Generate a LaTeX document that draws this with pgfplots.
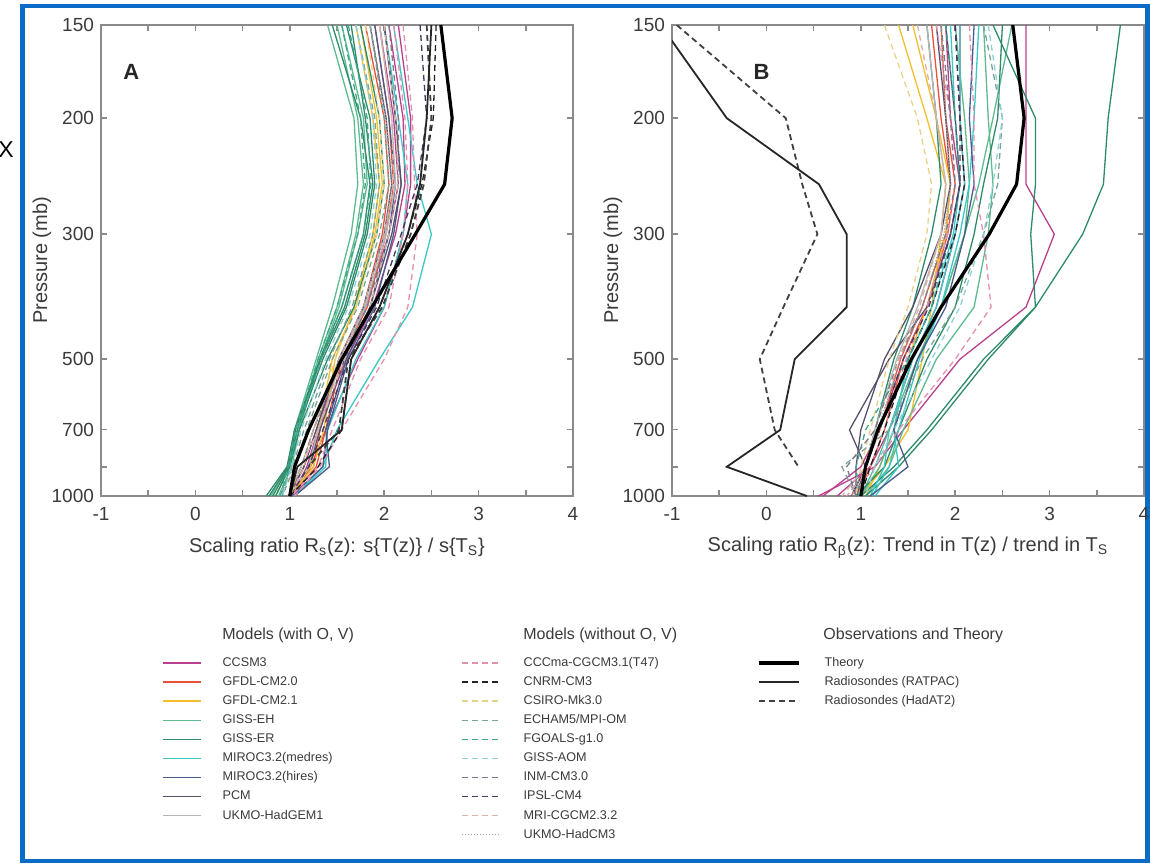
\documentclass[border=0pt]{standalone}
\usepackage{fontspec}
\setmainfont{Liberation Sans}
\usepackage{pgfplots}
\pgfplotsset{compat=1.18}
\definecolor{frameblue}{HTML}{0A6CC4}
\definecolor{axisgray}{HTML}{8A8A8A}
\definecolor{labelgray}{HTML}{3A3A3A}
\definecolor{cCCSM}{HTML}{B8408C}
\definecolor{cGFDLa}{HTML}{E8503A}
\definecolor{cGFDLb}{HTML}{F2BE2E}
\definecolor{cGISSEH}{HTML}{5DBB8E}
\definecolor{cGISSER}{HTML}{2E8B6A}
\definecolor{cMIROCm}{HTML}{3CC7C7}
\definecolor{cMIROCh}{HTML}{4A5A8A}
\definecolor{cPCM}{HTML}{55506A}
\definecolor{cHadGEM}{HTML}{B5B5B5}
\definecolor{cCCCma}{HTML}{E38FB0}
\definecolor{cCNRM}{HTML}{222222}
\definecolor{cCSIRO}{HTML}{E8D28A}
\definecolor{cECHAM}{HTML}{7AA595}
\definecolor{cFGOALS}{HTML}{3FA68F}
\definecolor{cGISSAOM}{HTML}{8FD0D8}
\definecolor{cINM}{HTML}{7A7A88}
\definecolor{cIPSL}{HTML}{4A3560}
\definecolor{cMRI}{HTML}{D9B3A8}
\definecolor{cHadCM3}{HTML}{A0A0A0}
\tikzset{
 mline/.style={line width=0.65pt, solid},
 dline/.style={line width=0.65pt, dash pattern=on 3pt off 2pt},
 sCCSM/.style={mline, draw=cCCSM},
 sGFDLa/.style={mline, draw=cGFDLa},
 sGFDLb/.style={mline, draw=cGFDLb},
 sGISSEH/.style={mline, draw=cGISSEH},
 sGISSER/.style={mline, draw=cGISSER},
 sMIROCm/.style={mline, draw=cMIROCm},
 sMIROCh/.style={mline, draw=cMIROCh},
 sPCM/.style={mline, draw=cPCM},
 sHadGEM/.style={mline, draw=cHadGEM},
 dCCCma/.style={dline, draw=cCCCma},
 dCNRM/.style={dline, draw=cCNRM},
 dCSIRO/.style={dline, draw=cCSIRO},
 dECHAM/.style={dline, draw=cECHAM},
 dFGOALS/.style={dline, draw=cFGOALS},
 dGISSAOM/.style={dline, draw=cGISSAOM},
 dINM/.style={dline, draw=cINM},
 dIPSL/.style={dline, draw=cIPSL},
 dMRI/.style={dline, draw=cMRI},
 dHadCM3/.style={line width=0.65pt, draw=cHadCM3, dash pattern=on 0.6pt off 0.9pt},
 oTheory/.style={line width=1.6pt, draw=black, solid},
 oRATPAC/.style={line width=0.9pt, draw=black!85, solid},
 oHadAT/.style={line width=0.9pt, draw=black!75, dash pattern=on 3pt off 2pt},
}
\pgfplotsset{
 panel/.style={
  scale only axis, width=236pt, height=235.5pt,
  xmin=-1, xmax=4, ymin=0.08913, ymax=0.17313,
  y filter/.expression={exp(-0.35*ln(y))},
  xtick={-1,0,1,2,3,4}, xticklabels={-1,0,1,2,3,4},
  minor xtick={-0.5,0.5,1.5,2.5,3.5},
  ytick={0.08913,0.09434,0.10098,0.11360,0.13583,0.15655,0.17313},
  yticklabels={1000,,700,500,300,200,150},
  scaled y ticks=false,
  tick align=inside, major tick length=3pt, minor tick length=3pt,
  axis line style={draw=axisgray, line width=1pt},
  every tick/.style={draw=axisgray, line width=0.8pt},
  tick label style={font=\fontsize{9.5}{11}\selectfont, text=labelgray},
  xticklabel style={yshift=-2pt},
  label style={font=\fontsize{10}{12}\selectfont, text=labelgray},
  xlabel style={at={(axis description cs:0.5,-0.11)}, anchor=center},
  ylabel style={at={(axis description cs:-0.125,0.5)}, anchor=center},
  no markers, clip=true,
 },
 legcol/.style={
  hide axis, scale only axis, width=1pt, height=1pt,
  xmin=0, xmax=1, ymin=0, ymax=1, anchor=north west,
  legend cell align=left,
  legend style={at={(0,1)}, anchor=north west, draw=none, fill=none,
    inner sep=0pt, outer sep=0pt, row sep=3.65pt,
    font=\fontsize{6.3}{7}\selectfont, text=labelgray,
    nodes={inner xsep=0pt, inner ysep=0pt, text height=4.6pt, text depth=1.3pt}},
 },
}
\begin{document}
\begin{tikzpicture}
\useasboundingbox (0,0) rectangle (575pt,-431.5pt);
\draw[frameblue, line width=2.4pt] (11.25pt,-3pt) rectangle (573.75pt,-430.5pt);
\node[font=\fontsize{11.5}{13}\selectfont, text=black] at (3pt,-75pt) {X};

% ---------------- Panel A ----------------
\begin{axis}[panel, at={(50.5pt,-248pt)}, anchor=south west,
  xlabel={Scaling ratio R\textsubscript{s}(z): s\{T(z)\} / s\{T\textsubscript{S}\}},
  ylabel={Pressure (mb)}]
\addplot[sCCSM] coordinates {(1.95,150)(2.10,200)(2.15,250)(2.05,300)(1.80,400)(1.55,500)(1.28,700)(1.15,850)(1.00,1000)};
\addplot[sCCSM] coordinates {(2.05,150)(2.20,200)(2.22,250)(2.12,300)(1.88,400)(1.60,500)(1.30,700)(1.18,850)(1.02,1000)};
\addplot[sCCSM] coordinates {(2.15,150)(2.28,200)(2.28,250)(2.20,300)(2.00,400)(1.72,500)(1.38,700)(1.22,850)(1.05,1000)};
\addplot[sGFDLa] coordinates {(1.80,150)(2.00,200)(2.05,250)(1.98,300)(1.78,400)(1.52,500)(1.32,700)(1.25,850)(1.00,1000)};
\addplot[sGFDLa] coordinates {(1.90,150)(2.05,200)(2.10,250)(2.02,300)(1.82,400)(1.55,500)(1.38,700)(1.28,850)(1.02,1000)};
\addplot[sGFDLb] coordinates {(1.75,150)(1.92,200)(1.98,250)(1.90,300)(1.70,400)(1.45,500)(1.30,700)(1.22,850)(0.98,1000)};
\addplot[sGFDLb] coordinates {(1.70,150)(1.88,200)(1.95,250)(1.88,300)(1.68,400)(1.48,500)(1.36,700)(1.25,850)(1.00,1000)};
\addplot[sGISSEH] coordinates {(1.40,150)(1.68,200)(1.72,250)(1.65,300)(1.45,400)(1.28,500)(1.05,700)(0.98,850)(0.80,1000)};
\addplot[sGISSEH] coordinates {(1.50,150)(1.72,200)(1.78,250)(1.70,300)(1.50,400)(1.30,500)(1.08,700)(1.00,850)(0.85,1000)};
\addplot[sGISSEH] coordinates {(1.55,150)(1.78,200)(1.82,250)(1.72,300)(1.52,400)(1.32,500)(1.10,700)(1.02,850)(0.88,1000)};
\addplot[sGISSER] coordinates {(1.45,150)(1.75,200)(1.85,250)(1.78,300)(1.55,400)(1.32,500)(1.05,700)(0.97,850)(0.75,1000)};
\addplot[sGISSER] coordinates {(1.60,150)(1.85,200)(1.90,250)(1.82,300)(1.60,400)(1.35,500)(1.08,700)(0.98,850)(0.78,1000)};
\addplot[sGISSER] coordinates {(1.65,150)(1.80,200)(1.88,250)(1.80,300)(1.58,400)(1.33,500)(1.06,700)(0.99,850)(0.82,1000)};
\addplot[sGISSER] coordinates {(1.75,150)(1.95,200)(2.00,250)(1.92,300)(1.68,400)(1.40,500)(1.10,700)(1.00,850)(0.85,1000)};
\addplot[sMIROCm] coordinates {(2.10,150)(2.25,200)(2.35,250)(2.50,300)(2.30,400)(1.95,500)(1.50,700)(1.35,850)(1.05,1000)};
\addplot[sMIROCm] coordinates {(2.00,150)(2.15,200)(2.25,250)(2.20,300)(2.00,400)(1.70,500)(1.40,700)(1.38,850)(1.05,1000)};
\addplot[sMIROCh] coordinates {(1.90,150)(2.05,200)(2.12,250)(2.05,300)(1.85,400)(1.60,500)(1.38,700)(1.42,850)(1.05,1000)};
\addplot[sMIROCh] coordinates {(2.00,150)(2.12,200)(2.18,250)(2.10,300)(1.90,400)(1.62,500)(1.40,700)(1.35,850)(1.02,1000)};
\addplot[sPCM] coordinates {(2.00,150)(2.12,200)(2.18,250)(2.08,300)(1.85,400)(1.58,500)(1.32,700)(1.20,850)(1.00,1000)};
\addplot[sPCM] coordinates {(1.85,150)(2.02,200)(2.08,250)(2.00,300)(1.78,400)(1.52,500)(1.28,700)(1.15,850)(0.98,1000)};
\addplot[sHadGEM] coordinates {(1.95,150)(2.08,200)(2.12,250)(2.02,300)(1.80,400)(1.55,500)(1.30,700)(1.20,850)(1.00,1000)};
\addplot[dCCCma] coordinates {(2.20,150)(2.30,200)(2.32,250)(2.35,300)(2.25,400)(2.00,500)(1.55,700)(1.32,850)(1.05,1000)};
\addplot[dCCCma] coordinates {(2.10,150)(2.22,200)(2.25,250)(2.20,300)(2.05,400)(1.75,500)(1.45,700)(1.30,850)(1.02,1000)};
\addplot[dCNRM] coordinates {(2.55,150)(2.52,200)(2.40,250)(2.25,300)(1.95,400)(1.65,500)(1.55,700)(1.30,850)(1.00,1000)};
\addplot[dCSIRO] coordinates {(1.80,150)(1.95,200)(2.00,250)(1.92,300)(1.70,400)(1.48,500)(1.25,700)(1.12,850)(0.98,1000)};
\addplot[dECHAM] coordinates {(1.85,150)(2.00,200)(2.05,250)(1.95,300)(1.72,400)(1.45,500)(1.18,700)(1.05,850)(0.92,1000)};
\addplot[dECHAM] coordinates {(1.70,150)(1.90,200)(1.95,250)(1.88,300)(1.66,400)(1.42,500)(1.15,700)(1.03,850)(0.90,1000)};
\addplot[dFGOALS] coordinates {(1.55,150)(1.75,200)(1.80,250)(1.72,300)(1.50,400)(1.30,500)(1.06,700)(0.98,850)(0.90,1000)};
\addplot[dFGOALS] coordinates {(1.62,150)(1.82,200)(1.86,250)(1.78,300)(1.55,400)(1.33,500)(1.08,700)(1.00,850)(0.92,1000)};
\addplot[dGISSAOM] coordinates {(1.70,150)(1.88,200)(1.92,250)(1.85,300)(1.62,400)(1.38,500)(1.12,700)(1.02,850)(0.92,1000)};
\addplot[dINM] coordinates {(2.05,150)(2.15,200)(2.15,250)(2.05,300)(1.82,400)(1.55,500)(1.25,700)(1.12,850)(0.98,1000)};
\addplot[dIPSL] coordinates {(2.38,150)(2.45,200)(2.35,250)(2.18,300)(1.92,400)(1.62,500)(1.35,700)(1.20,850)(1.00,1000)};
\addplot[dMRI] coordinates {(1.95,150)(2.08,200)(2.10,250)(2.00,300)(1.78,400)(1.52,500)(1.25,700)(1.15,850)(1.00,1000)};
\addplot[dMRI] coordinates {(2.00,150)(2.12,200)(2.15,250)(2.05,300)(1.85,400)(1.58,500)(1.30,700)(1.12,850)(0.98,1000)};
\addplot[dHadCM3] coordinates {(1.85,150)(2.02,200)(2.08,250)(2.00,300)(1.78,400)(1.52,500)(1.25,700)(1.12,850)(0.98,1000)};
\addplot[oHadAT] coordinates {(2.45,150)(2.50,200)(2.42,250)(2.28,300)(1.98,400)(1.62,500)(1.52,700)(1.20,850)};
\addplot[oRATPAC] coordinates {(2.50,150)(2.45,200)(2.38,250)(2.25,300)(1.95,400)(1.65,500)(1.55,700)(1.08,850)(1.00,1000)};
\addplot[oTheory] coordinates {(2.60,150)(2.72,200)(2.64,250)(2.33,300)(1.87,400)(1.55,500)(1.20,700)(1.05,850)(1.00,1000)};
\node[font=\bfseries\fontsize{11}{12}\selectfont, text=black!85] at (axis description cs:0.064,0.90) {A};
\end{axis}

% ---------------- Panel B ----------------
\begin{axis}[panel, at={(336pt,-248pt)}, anchor=south west,
  xlabel={Scaling ratio R\textsubscript{β}(z): Trend in T(z) / trend in T\textsubscript{S}},
  ylabel={Pressure (mb)}]
\addplot[sCCSM] coordinates {(2.75,150)(2.75,200)(2.75,250)(3.05,300)(2.75,400)(2.05,500)(1.45,700)(1.15,850)(0.55,1000)};
\addplot[sCCSM] coordinates {(1.90,150)(1.95,200)(2.05,250)(1.95,300)(1.70,400)(1.45,500)(1.20,700)(1.00,850)(0.60,1000)};
\addplot[sCCSM] coordinates {(2.05,150)(2.05,200)(2.10,250)(2.00,300)(1.80,400)(1.55,500)(1.30,700)(1.10,850)(0.75,1000)};
\addplot[sGFDLa] coordinates {(1.75,150)(1.85,200)(1.95,250)(1.90,300)(1.65,400)(1.42,500)(1.20,700)(1.05,850)(0.90,1000)};
\addplot[sGFDLa] coordinates {(1.85,150)(1.90,200)(2.00,250)(1.92,300)(1.70,400)(1.45,500)(1.25,700)(1.10,850)(0.95,1000)};
\addplot[sGFDLb] coordinates {(1.40,150)(1.70,200)(1.90,250)(1.85,300)(1.75,400)(1.65,500)(1.50,700)(1.25,850)(1.00,1000)};
\addplot[sGFDLb] coordinates {(1.55,150)(1.80,200)(1.95,250)(1.90,300)(1.70,400)(1.50,500)(1.35,700)(1.20,850)(1.05,1000)};
\addplot[sGISSEH] coordinates {(2.30,150)(2.35,200)(2.40,250)(2.35,300)(2.20,400)(1.80,500)(1.45,700)(1.30,850)(1.05,1000)};
\addplot[sGISSEH] coordinates {(2.00,150)(2.10,200)(2.15,250)(2.10,300)(1.85,400)(1.60,500)(1.35,700)(1.20,850)(1.00,1000)};
\addplot[sGISSEH] coordinates {(2.60,150)(2.40,200)(2.25,250)(2.10,300)(1.85,400)(1.60,500)(1.30,700)(1.15,850)(1.00,1000)};
\addplot[sGISSER] coordinates {(3.75,150)(3.62,200)(3.57,250)(3.35,300)(2.85,400)(2.35,500)(1.75,700)(1.40,850)(1.05,1000)};
\addplot[sGISSER] coordinates {(2.40,150)(2.85,200)(2.85,250)(2.80,300)(2.85,400)(2.30,500)(1.70,700)(1.35,850)(1.00,1000)};
\addplot[sGISSER] coordinates {(2.50,150)(2.45,200)(2.30,250)(2.20,300)(2.00,400)(1.70,500)(1.40,700)(1.25,850)(0.95,1000)};
\addplot[sGISSER] coordinates {(1.70,150)(1.80,200)(1.85,250)(1.75,300)(1.55,400)(1.35,500)(1.15,700)(1.05,850)(0.98,1000)};
\addplot[sMIROCm] coordinates {(2.05,150)(2.05,200)(2.10,250)(2.00,300)(1.80,400)(1.55,500)(1.30,700)(1.25,850)(1.10,1000)};
\addplot[sMIROCm] coordinates {(1.95,150)(2.00,200)(2.05,250)(1.98,300)(1.75,400)(1.50,500)(1.35,700)(1.40,850)(1.15,1000)};
\addplot[sMIROCm] coordinates {(2.25,150)(2.20,200)(2.15,250)(2.05,300)(1.85,400)(1.62,500)(1.40,700)(1.30,850)(1.12,1000)};
\addplot[sMIROCh] coordinates {(2.20,150)(2.15,200)(2.20,250)(2.10,300)(1.90,400)(1.60,500)(1.35,700)(1.50,850)(1.10,1000)};
\addplot[sPCM] coordinates {(1.90,150)(2.00,200)(2.05,250)(1.95,300)(1.70,400)(1.30,500)(0.88,700)(1.05,850)(0.95,1000)};
\addplot[sPCM] coordinates {(1.80,150)(1.90,200)(1.95,250)(1.85,300)(1.55,400)(1.25,500)(1.00,700)(0.95,850)(0.95,1000)};
\addplot[sHadGEM] coordinates {(1.70,150)(1.80,200)(1.90,250)(1.85,300)(1.60,400)(1.38,500)(1.15,700)(1.05,850)(0.98,1000)};
\addplot[dCCCma] coordinates {(2.15,150)(2.20,200)(2.20,250)(2.30,300)(2.38,400)(2.00,500)(1.40,700)(1.15,850)(0.90,1000)};
\addplot[dCCCma] coordinates {(1.80,150)(1.95,200)(2.00,250)(1.92,300)(1.70,400)(1.48,500)(1.25,700)(1.10,850)(0.85,1000)};
\addplot[dCNRM] coordinates {(2.00,150)(2.05,200)(2.10,250)(2.00,300)(1.75,400)(1.50,500)(1.25,700)(1.10,850)(1.00,1000)};
\addplot[dCSIRO] coordinates {(1.25,150)(1.60,200)(1.75,250)(1.70,300)(1.50,400)(1.30,500)(1.10,700)(1.00,850)(0.95,1000)};
\addplot[dECHAM] coordinates {(2.30,150)(2.50,200)(2.45,250)(2.30,300)(2.00,400)(1.65,500)(1.30,700)(0.80,850)(0.95,1000)};
\addplot[dFGOALS] coordinates {(1.90,150)(2.00,200)(2.05,250)(1.95,300)(1.75,400)(1.50,500)(1.05,700)(0.95,850)(0.98,1000)};
\addplot[dGISSAOM] coordinates {(2.35,150)(2.50,200)(2.40,250)(2.30,300)(2.05,400)(1.75,500)(1.35,700)(1.15,850)(1.05,1000)};
\addplot[dINM] coordinates {(1.85,150)(1.95,200)(2.00,250)(1.90,300)(1.65,400)(1.40,500)(1.15,700)(0.85,850)(0.95,1000)};
\addplot[dIPSL] coordinates {(2.00,150)(2.05,200)(2.05,250)(1.95,300)(1.72,400)(1.45,500)(1.20,700)(1.05,850)(0.90,1000)};
\addplot[dMRI] coordinates {(1.60,150)(1.80,200)(1.90,250)(1.85,300)(1.62,400)(1.40,500)(1.20,700)(1.05,850)(0.80,1000)};
\addplot[dHadCM3] coordinates {(1.85,150)(1.90,200)(1.95,250)(1.88,300)(1.65,400)(1.42,500)(1.18,700)(1.05,850)(0.90,1000)};
\addplot[oHadAT] coordinates {(-0.95,150)(0.205,200)(0.38,250)(0.54,300)(0.18,400)(-0.07,500)(0.088,700)(0.34,850)};
\addplot[oRATPAC] coordinates {(-1.12,150)(-0.42,200)(0.557,250)(0.85,300)(0.85,400)(0.30,500)(0.146,700)(-0.42,850)(0.43,1000)};
\addplot[oTheory] coordinates {(2.61,150)(2.73,200)(2.65,250)(2.36,300)(1.85,400)(1.535,500)(1.18,700)(1.05,850)(1.00,1000)};
\node[font=\bfseries\fontsize{11}{12}\selectfont, text=black!85] at (axis description cs:0.19,0.90) {B};
\end{axis}

% ---------------- Legend titles ----------------
\node[anchor=base west, inner sep=0pt, font=\fontsize{8}{9}\selectfont, text=labelgray] at (111pt,-319.5pt) {Models (with O, V)};
\node[anchor=base west, inner sep=0pt, font=\fontsize{8}{9}\selectfont, text=labelgray] at (261.5pt,-319.5pt) {Models (without O, V)};
\node[anchor=base west, inner sep=0pt, font=\fontsize{8}{9}\selectfont, text=labelgray] at (411.5pt,-319.5pt) {Observations and Theory};

% ---------------- Legend column 1 ----------------
\begin{axis}[legcol, at={(81pt,-328.5pt)},
  legend image code/.code={\draw[#1] (0pt,0pt) -- (19pt,0pt); \path[draw=none] (0pt,0pt) -- (30pt,0pt);}]
\addlegendimage{sCCSM}\addlegendentry{CCSM3}
\addlegendimage{sGFDLa}\addlegendentry{GFDL-CM2.0}
\addlegendimage{sGFDLb}\addlegendentry{GFDL-CM2.1}
\addlegendimage{sGISSEH}\addlegendentry{GISS-EH}
\addlegendimage{sGISSER}\addlegendentry{GISS-ER}
\addlegendimage{sMIROCm}\addlegendentry{MIROC3.2(medres)}
\addlegendimage{sMIROCh}\addlegendentry{MIROC3.2(hires)}
\addlegendimage{sPCM}\addlegendentry{PCM}
\addlegendimage{sHadGEM}\addlegendentry{UKMO-HadGEM1}
\end{axis}

% ---------------- Legend column 2 ----------------
\begin{axis}[legcol, at={(230.5pt,-328.5pt)},
  legend image code/.code={\draw[#1] (0pt,0pt) -- (19.5pt,0pt); \path[draw=none] (0pt,0pt) -- (31pt,0pt);}]
\addlegendimage{dCCCma}\addlegendentry{CCCma-CGCM3.1(T47)}
\addlegendimage{dCNRM}\addlegendentry{CNRM-CM3}
\addlegendimage{dCSIRO}\addlegendentry{CSIRO-Mk3.0}
\addlegendimage{dECHAM}\addlegendentry{ECHAM5/MPI-OM}
\addlegendimage{dFGOALS}\addlegendentry{FGOALS-g1.0}
\addlegendimage{dGISSAOM}\addlegendentry{GISS-AOM}
\addlegendimage{dINM}\addlegendentry{INM-CM3.0}
\addlegendimage{dIPSL}\addlegendentry{IPSL-CM4}
\addlegendimage{dMRI}\addlegendentry{MRI-CGCM2.3.2}
\addlegendimage{dHadCM3}\addlegendentry{UKMO-HadCM3}
\end{axis}

% ---------------- Legend column 3 ----------------
\begin{axis}[legcol, at={(378.5pt,-328.5pt)},
  legend image code/.code={\draw[#1] (0pt,0pt) -- (20pt,0pt); \path[draw=none] (0pt,0pt) -- (33pt,0pt);}]
\addlegendimage{oTheory}\addlegendentry{Theory}
\addlegendimage{oRATPAC}\addlegendentry{Radiosondes (RATPAC)}
\addlegendimage{oHadAT}\addlegendentry{Radiosondes (HadAT2)}
\end{axis}
\end{tikzpicture}
\end{document}
